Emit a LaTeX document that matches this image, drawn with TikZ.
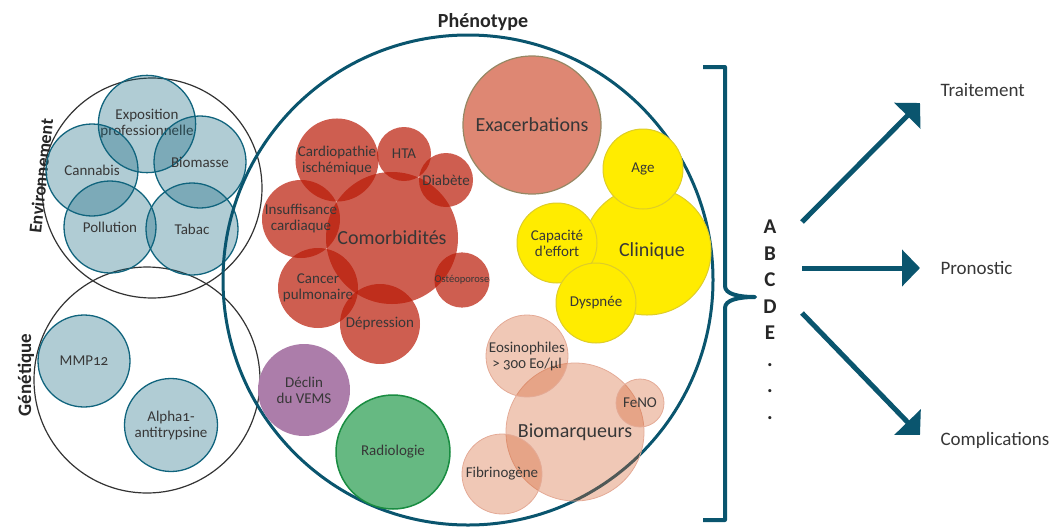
\documentclass[tikz,border=0pt]{standalone}
\usepackage{fontspec}
\setmainfont{Carlito}[Numbers=OldStyle]
\usetikzlibrary{arrows.meta, positioning}
\definecolor{tealdark}{RGB}{10,85,110}
\definecolor{envblue}{RGB}{16,100,125}
\definecolor{comored}{RGB}{185,25,5}
\definecolor{biopeach}{RGB}{212,98,46}
\definecolor{peachline}{RGB}{228,170,150}
\definecolor{exacsalmon}{RGB}{222,135,115}
\definecolor{exacline}{RGB}{150,135,100}
\definecolor{cliniyellow}{RGB}{255,236,0}
\definecolor{clinline}{RGB}{222,205,40}
\definecolor{vemspurple}{RGB}{172,125,170}
\definecolor{radiogreen}{RGB}{102,185,130}
\definecolor{radioline}{RGB}{25,140,65}
\definecolor{txtgray}{RGB}{55,55,55}

\begin{document}
\begin{tikzpicture}[x=1pt, y=-1pt,
      bubble/.style={circle, inner sep=0pt, align=center, text=txtgray, text opacity=1, font=\fontsize{15}{16}\selectfont},
      envbubble/.style={bubble, draw=envblue, line width=1.3pt, fill=envblue, fill opacity=0.33},
      redbubble/.style={bubble, fill=comored, fill opacity=0.7},
      yelbubble/.style={bubble, fill=cliniyellow, draw=clinline, line width=1pt},
      peachbubble/.style={bubble, fill=biopeach, fill opacity=0.35, draw=peachline, line width=0.8pt},
      group/.style={circle, draw=black!80, line width=1.2pt, inner sep=0pt},
      grouplabel/.style={font=\fontsize{#1}{#1}\selectfont\bfseries, text=black!85},
      big/.style={font=\fontsize{20}{22}\selectfont},
      outlabel/.style={anchor=west, text=txtgray, font=\fontsize{19}{21}\selectfont},
      letter/.style={anchor=base, text=black!85, font=\fontsize{21}{23}\selectfont\bfseries},
      bigarrow/.style={tealdark, line width=5pt, -{Triangle[length=18pt, width=36pt]}}
    ]
      \useasboundingbox (0,0) rectangle (1057,528);

      % Environnement and Genetique
      \node[group, minimum size=220] (envir) at (152,188) {};
      \node[group, minimum size=226] (genet) at (147,380) {};
      \node[grouplabel=18, rotate=84] (envlab) at (41,176) {Environnement};
      \node[grouplabel=19, rotate=90] (genlab) at (26,375) {Génétique};

      \node[envbubble, minimum size=92] (expo) at (147,124) {Exposition\\professionnelle};
      \node[envbubble, minimum size=92] (canna) at (92,170) {Cannabis};
      \node[envbubble, minimum size=92] (bioma) at (200,162) {Biomasse};
      \node[envbubble, minimum size=92] (pollu) at (110,227) {Pollution};
      \node[envbubble, minimum size=92] (tabac) at (192,229) {Tabac};
      \node[envbubble, minimum size=92] (mmp) at (84,361) {MMP12};
      \node[envbubble, minimum size=93] (alpha) at (171,425) {Alpha1-\\antitrypsine};

      % Phenotype
      \node[circle, draw=tealdark, line width=3pt, minimum size=490] (pheno) at (468,280) {};
      \node[grouplabel=20] (phenlab) at (483,22) {Phénotype};

      % Comorbidites
      \node[redbubble, big, minimum size=132] (comor) at (392,238) {Comorbidités};
      \node[redbubble, minimum size=80] (cardio) at (337,160) {Cardiopathie\\ischémique};
      \node[redbubble, minimum size=54] (hta) at (404,154) {HTA};
      \node[redbubble, minimum size=54] (diab) at (446,180) {Diabète};
      \node[redbubble, minimum size=78] (insuf) at (301,219) {Insuffisance\\cardiaque};
      \node[redbubble, minimum size=80] (cancer) at (318,288) {Cancer\\pulmonaire};
      \node[redbubble, minimum size=80] (depre) at (380,324) {Dépression};
      \node[redbubble, minimum size=55, font=\fontsize{10.5}{12}\selectfont] (osteo) at (462,280) {Ostéoporose};

      % Exacerbations
      \node[bubble, big, fill=exacsalmon, draw=exacline, line width=1.2pt, minimum size=138] (exac) at (532,125) {Exacerbations};

      % Clinique
      \node[yelbubble, big, minimum size=128] (clini) at (647,251) {\hspace*{10pt}Clinique};
      \node[yelbubble, minimum size=80] (age) at (643,169) {Age};
      \node[yelbubble, minimum size=80] (effort) at (557,243) {Capacité\\d’effort};
      \node[yelbubble, minimum size=80] (dysp) at (596,303) {Dyspnée};

      % Biomarqueurs
      \node[peachbubble, big, minimum size=138] (biomq) at (575,432) {Biomarqueurs};
      \node[peachbubble, minimum size=82] (eosin) at (527,356) {Eosinophiles\\> 300 Eo/µl};
      \node[peachbubble, minimum size=48] (feno) at (640,403) {FeNO};
      \node[peachbubble, minimum size=80] (fibri) at (502,474) {Fibrinogène};

      \node[bubble, fill=vemspurple, minimum size=92] (vems) at (304,390) {Déclin\\du VEMS};
      \node[bubble, fill=radiogreen, draw=radioline, line width=1.5pt, minimum size=114] (radio) at (393,452) {Radiologie};

      % bracket and letters
      \coordinate (brtop) at (703,67);
      \coordinate (brbot) at (703,520);
      \coordinate (brtip) at (755,297);
      \draw[tealdark, line width=4pt, line join=round] (brtop) -- (725,67) -- (725,286)
        .. controls (725,294) and (738,297) .. (brtip)
        .. controls (738,297) and (725,300) .. (725,308) -- (725,520) -- (brbot);
      \foreach \l [count=\i] in {A,B,C,D,E,.,.,.}
        \node[letter] (let\i) at (770,207+26.5*\i) {\l};

      % outcomes
      \coordinate (trs) at (802,222);
      \coordinate (tre) at (920,103);
      \coordinate (prs) at (802,268);
      \coordinate (pre) at (920,268);
      \coordinate (cos) at (802,313);
      \coordinate (coe) at (920,435);
      \draw[bigarrow] (trs) -- (tre);
      \draw[bigarrow] (prs) -- (pre);
      \draw[bigarrow] (cos) -- (coe);
      \node[outlabel] (trait) at (937,90) {Traitement};
      \node[outlabel] (prono) at (937,268) {Pronostic};
      \node[outlabel] (compl) at (937,440) {Complications};
    \end{tikzpicture}
\end{document}
